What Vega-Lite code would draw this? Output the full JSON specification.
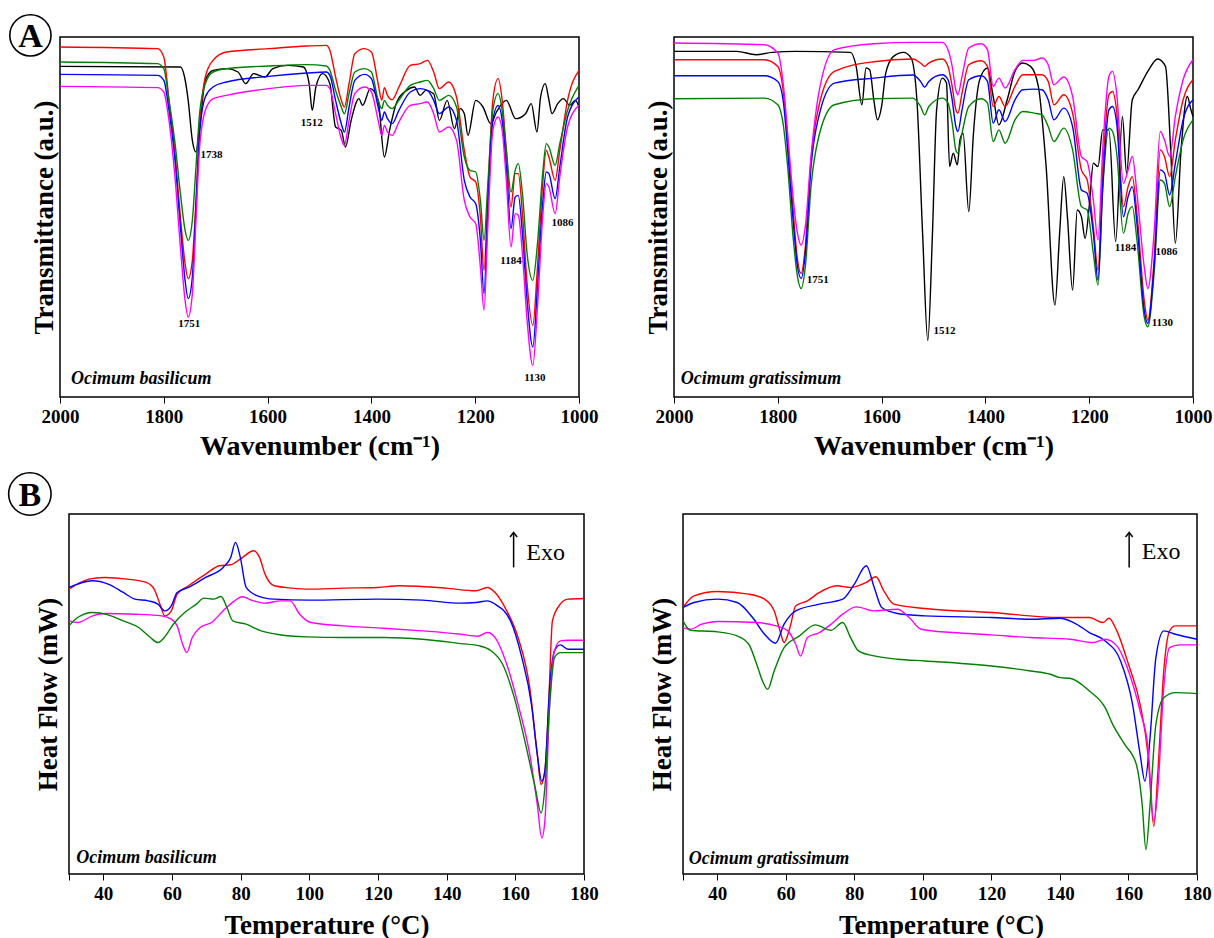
{
  "$schema": "https://vega.github.io/schema/vega-lite/v6.json",
  "padding": {"left": 5, "top": 10, "right": 0, "bottom": 0},
  "background": "white",
  "config": {
    "font": "Liberation Serif",
    "view": {"stroke": "#000000", "strokeWidth": 1.5},
    "axis": {"grid": false, "domain": false, "tickColor": "#000000", "labelColor": "#000000", "titleColor": "#000000", "labelFont": "Liberation Serif", "titleFont": "Liberation Serif", "labelFontWeight": "bold", "titleFontWeight": "bold"},
    "line": {"strokeWidth": 1.4, "interpolate": "monotone"},
    "text": {"font": "Liberation Serif", "color": "#000000"}
  },
  "datasets": {
    "ftir_ob": [
      {"s":"S1","x":2000,"y":992},{"s":"S1","x":1768,"y":990},{"s":"S1","x":1760,"y":960},{"s":"S1","x":1753,"y":890},{"s":"S1","x":1745,"y":770},{"s":"S1","x":1738,"y":735},{"s":"S1","x":1731,"y":810},{"s":"S1","x":1720,"y":950},{"s":"S1","x":1705,"y":980},{"s":"S1","x":1679,"y":985},{"s":"S1","x":1657,"y":975},{"s":"S1","x":1642,"y":940},{"s":"S1","x":1627,"y":970},{"s":"S1","x":1605,"y":960},{"s":"S1","x":1590,"y":985},{"s":"S1","x":1561,"y":995},{"s":"S1","x":1531,"y":990},{"s":"S1","x":1520,"y":940},{"s":"S1","x":1514,"y":860},{"s":"S1","x":1507,"y":930},{"s":"S1","x":1494,"y":970},{"s":"S1","x":1480,"y":940},{"s":"S1","x":1469,"y":810},{"s":"S1","x":1458,"y":800},{"s":"S1","x":1450,"y":750},{"s":"S1","x":1439,"y":830},{"s":"S1","x":1424,"y":895},{"s":"S1","x":1417,"y":875},{"s":"S1","x":1402,"y":925},{"s":"S1","x":1387,"y":890},{"s":"S1","x":1375,"y":720},{"s":"S1","x":1365,"y":800},{"s":"S1","x":1351,"y":885},{"s":"S1","x":1332,"y":920},{"s":"S1","x":1317,"y":930},{"s":"S1","x":1306,"y":905},{"s":"S1","x":1295,"y":920},{"s":"S1","x":1280,"y":910},{"s":"S1","x":1269,"y":830},{"s":"S1","x":1254,"y":890},{"s":"S1","x":1240,"y":805},{"s":"S1","x":1229,"y":865},{"s":"S1","x":1221,"y":850},{"s":"S1","x":1214,"y":785},{"s":"S1","x":1199,"y":890},{"s":"S1","x":1185,"y":870},{"s":"S1","x":1170,"y":820},{"s":"S1","x":1159,"y":855},{"s":"S1","x":1140,"y":890},{"s":"S1","x":1122,"y":835},{"s":"S1","x":1103,"y":850},{"s":"S1","x":1092,"y":880},{"s":"S1","x":1081,"y":795},{"s":"S1","x":1074,"y":900},{"s":"S1","x":1065,"y":940},{"s":"S1","x":1059,"y":900},{"s":"S1","x":1052,"y":850},{"s":"S1","x":1041,"y":880},{"s":"S1","x":1030,"y":895},{"s":"S1","x":1018,"y":875},{"s":"S1","x":1007,"y":890},{"s":"S1","x":1000,"y":870},
      {"s":"S2","x":2000,"y":1050},{"s":"S2","x":1812,"y":1045},{"s":"S2","x":1800,"y":1020},{"s":"S2","x":1790,"y":890},{"s":"S2","x":1779,"y":740},{"s":"S2","x":1768,"y":540},{"s":"S2","x":1759,"y":400},{"s":"S2","x":1753,"y":355},{"s":"S2","x":1745,"y":410},{"s":"S2","x":1738,"y":590},{"s":"S2","x":1731,"y":810},{"s":"S2","x":1720,"y":960},{"s":"S2","x":1705,"y":1010},{"s":"S2","x":1679,"y":1035},{"s":"S2","x":1598,"y":1045},{"s":"S2","x":1524,"y":1053},{"s":"S2","x":1487,"y":1055},{"s":"S2","x":1480,"y":1040},{"s":"S2","x":1469,"y":960},{"s":"S2","x":1458,"y":890},{"s":"S2","x":1452,"y":870},{"s":"S2","x":1443,"y":940},{"s":"S2","x":1432,"y":1030},{"s":"S2","x":1413,"y":1045},{"s":"S2","x":1400,"y":1035},{"s":"S2","x":1387,"y":940},{"s":"S2","x":1380,"y":890},{"s":"S2","x":1375,"y":928},{"s":"S2","x":1369,"y":905},{"s":"S2","x":1360,"y":892},{"s":"S2","x":1347,"y":930},{"s":"S2","x":1325,"y":995},{"s":"S2","x":1306,"y":1000},{"s":"S2","x":1292,"y":1010},{"s":"S2","x":1280,"y":975},{"s":"S2","x":1269,"y":925},{"s":"S2","x":1251,"y":945},{"s":"S2","x":1236,"y":900},{"s":"S2","x":1221,"y":740},{"s":"S2","x":1210,"y":660},{"s":"S2","x":1199,"y":645},{"s":"S2","x":1190,"y":540},{"s":"S2","x":1183,"y":380},{"s":"S2","x":1176,"y":590},{"s":"S2","x":1166,"y":890},{"s":"S2","x":1156,"y":955},{"s":"S2","x":1148,"y":890},{"s":"S2","x":1140,"y":740},{"s":"S2","x":1131,"y":570},{"s":"S2","x":1123,"y":670},{"s":"S2","x":1117,"y":670},{"s":"S2","x":1109,"y":550},{"s":"S2","x":1100,"y":340},{"s":"S2","x":1089,"y":215},{"s":"S2","x":1080,"y":390},{"s":"S2","x":1070,"y":640},{"s":"S2","x":1063,"y":740},{"s":"S2","x":1058,"y":720},{"s":"S2","x":1046,"y":650},{"s":"S2","x":1037,"y":740},{"s":"S2","x":1022,"y":890},{"s":"S2","x":1000,"y":980},
      {"s":"S3","x":2000,"y":1005},{"s":"S3","x":1812,"y":1000},{"s":"S3","x":1800,"y":985},{"s":"S3","x":1790,"y":890},{"s":"S3","x":1779,"y":770},{"s":"S3","x":1768,"y":610},{"s":"S3","x":1759,"y":500},{"s":"S3","x":1753,"y":470},{"s":"S3","x":1745,"y":530},{"s":"S3","x":1738,"y":690},{"s":"S3","x":1731,"y":850},{"s":"S3","x":1720,"y":940},{"s":"S3","x":1705,"y":975},{"s":"S3","x":1679,"y":985},{"s":"S3","x":1598,"y":993},{"s":"S3","x":1524,"y":997},{"s":"S3","x":1487,"y":993},{"s":"S3","x":1480,"y":980},{"s":"S3","x":1469,"y":920},{"s":"S3","x":1458,"y":870},{"s":"S3","x":1452,"y":850},{"s":"S3","x":1443,"y":910},{"s":"S3","x":1432,"y":975},{"s":"S3","x":1413,"y":985},{"s":"S3","x":1400,"y":975},{"s":"S3","x":1387,"y":890},{"s":"S3","x":1380,"y":865},{"s":"S3","x":1375,"y":890},{"s":"S3","x":1369,"y":875},{"s":"S3","x":1360,"y":865},{"s":"S3","x":1347,"y":890},{"s":"S3","x":1325,"y":935},{"s":"S3","x":1306,"y":945},{"s":"S3","x":1292,"y":950},{"s":"S3","x":1280,"y":925},{"s":"S3","x":1269,"y":890},{"s":"S3","x":1251,"y":905},{"s":"S3","x":1236,"y":870},{"s":"S3","x":1221,"y":720},{"s":"S3","x":1210,"y":680},{"s":"S3","x":1199,"y":675},{"s":"S3","x":1190,"y":590},{"s":"S3","x":1183,"y":470},{"s":"S3","x":1176,"y":630},{"s":"S3","x":1166,"y":860},{"s":"S3","x":1156,"y":910},{"s":"S3","x":1148,"y":860},{"s":"S3","x":1140,"y":740},{"s":"S3","x":1131,"y":615},{"s":"S3","x":1123,"y":680},{"s":"S3","x":1117,"y":700},{"s":"S3","x":1109,"y":610},{"s":"S3","x":1100,"y":430},{"s":"S3","x":1089,"y":350},{"s":"S3","x":1080,"y":460},{"s":"S3","x":1070,"y":670},{"s":"S3","x":1063,"y":760},{"s":"S3","x":1058,"y":750},{"s":"S3","x":1046,"y":695},{"s":"S3","x":1037,"y":760},{"s":"S3","x":1022,"y":860},{"s":"S3","x":1000,"y":935},
      {"s":"S4","x":2000,"y":968},{"s":"S4","x":1812,"y":965},{"s":"S4","x":1800,"y":950},{"s":"S4","x":1790,"y":860},{"s":"S4","x":1779,"y":720},{"s":"S4","x":1768,"y":510},{"s":"S4","x":1759,"y":350},{"s":"S4","x":1753,"y":295},{"s":"S4","x":1745,"y":360},{"s":"S4","x":1738,"y":570},{"s":"S4","x":1731,"y":790},{"s":"S4","x":1720,"y":900},{"s":"S4","x":1705,"y":930},{"s":"S4","x":1679,"y":945},{"s":"S4","x":1598,"y":962},{"s":"S4","x":1524,"y":972},{"s":"S4","x":1487,"y":975},{"s":"S4","x":1480,"y":965},{"s":"S4","x":1469,"y":890},{"s":"S4","x":1458,"y":820},{"s":"S4","x":1452,"y":795},{"s":"S4","x":1443,"y":870},{"s":"S4","x":1432,"y":950},{"s":"S4","x":1413,"y":968},{"s":"S4","x":1400,"y":955},{"s":"S4","x":1387,"y":870},{"s":"S4","x":1380,"y":830},{"s":"S4","x":1375,"y":855},{"s":"S4","x":1369,"y":835},{"s":"S4","x":1360,"y":820},{"s":"S4","x":1347,"y":860},{"s":"S4","x":1325,"y":915},{"s":"S4","x":1306,"y":925},{"s":"S4","x":1292,"y":920},{"s":"S4","x":1280,"y":890},{"s":"S4","x":1269,"y":850},{"s":"S4","x":1251,"y":870},{"s":"S4","x":1236,"y":830},{"s":"S4","x":1221,"y":650},{"s":"S4","x":1210,"y":600},{"s":"S4","x":1199,"y":580},{"s":"S4","x":1190,"y":470},{"s":"S4","x":1183,"y":310},{"s":"S4","x":1176,"y":550},{"s":"S4","x":1166,"y":830},{"s":"S4","x":1156,"y":875},{"s":"S4","x":1148,"y":830},{"s":"S4","x":1140,"y":690},{"s":"S4","x":1131,"y":505},{"s":"S4","x":1123,"y":600},{"s":"S4","x":1117,"y":605},{"s":"S4","x":1109,"y":490},{"s":"S4","x":1100,"y":290},{"s":"S4","x":1089,"y":150},{"s":"S4","x":1080,"y":330},{"s":"S4","x":1070,"y":580},{"s":"S4","x":1063,"y":675},{"s":"S4","x":1058,"y":670},{"s":"S4","x":1046,"y":595},{"s":"S4","x":1037,"y":690},{"s":"S4","x":1022,"y":840},{"s":"S4","x":1000,"y":900},
      {"s":"S5","x":2000,"y":932},{"s":"S5","x":1812,"y":928},{"s":"S5","x":1800,"y":915},{"s":"S5","x":1790,"y":830},{"s":"S5","x":1779,"y":670},{"s":"S5","x":1768,"y":450},{"s":"S5","x":1759,"y":290},{"s":"S5","x":1753,"y":240},{"s":"S5","x":1745,"y":310},{"s":"S5","x":1738,"y":530},{"s":"S5","x":1731,"y":750},{"s":"S5","x":1720,"y":860},{"s":"S5","x":1705,"y":895},{"s":"S5","x":1679,"y":905},{"s":"S5","x":1598,"y":925},{"s":"S5","x":1524,"y":935},{"s":"S5","x":1487,"y":935},{"s":"S5","x":1480,"y":925},{"s":"S5","x":1469,"y":850},{"s":"S5","x":1458,"y":775},{"s":"S5","x":1452,"y":755},{"s":"S5","x":1443,"y":830},{"s":"S5","x":1432,"y":910},{"s":"S5","x":1413,"y":930},{"s":"S5","x":1400,"y":915},{"s":"S5","x":1387,"y":830},{"s":"S5","x":1380,"y":785},{"s":"S5","x":1375,"y":815},{"s":"S5","x":1369,"y":795},{"s":"S5","x":1360,"y":785},{"s":"S5","x":1347,"y":825},{"s":"S5","x":1325,"y":875},{"s":"S5","x":1306,"y":880},{"s":"S5","x":1292,"y":885},{"s":"S5","x":1280,"y":850},{"s":"S5","x":1269,"y":795},{"s":"S5","x":1251,"y":810},{"s":"S5","x":1236,"y":770},{"s":"S5","x":1221,"y":590},{"s":"S5","x":1210,"y":540},{"s":"S5","x":1199,"y":520},{"s":"S5","x":1190,"y":390},{"s":"S5","x":1183,"y":260},{"s":"S5","x":1176,"y":500},{"s":"S5","x":1166,"y":800},{"s":"S5","x":1156,"y":840},{"s":"S5","x":1148,"y":800},{"s":"S5","x":1140,"y":650},{"s":"S5","x":1131,"y":450},{"s":"S5","x":1123,"y":550},{"s":"S5","x":1117,"y":545},{"s":"S5","x":1109,"y":430},{"s":"S5","x":1100,"y":230},{"s":"S5","x":1089,"y":95},{"s":"S5","x":1080,"y":270},{"s":"S5","x":1070,"y":540},{"s":"S5","x":1063,"y":640},{"s":"S5","x":1058,"y":630},{"s":"S5","x":1046,"y":550},{"s":"S5","x":1037,"y":660},{"s":"S5","x":1022,"y":810},{"s":"S5","x":1000,"y":875}
    ],
    "ftir_og": [
      {"s":"S1","x":2000,"y":1035},{"s":"S1","x":1879,"y":1035},{"s":"S1","x":1842,"y":1025},{"s":"S1","x":1811,"y":1032},{"s":"S1","x":1766,"y":1035},{"s":"S1","x":1660,"y":1032},{"s":"S1","x":1649,"y":990},{"s":"S1","x":1638,"y":875},{"s":"S1","x":1630,"y":985},{"s":"S1","x":1623,"y":980},{"s":"S1","x":1615,"y":890},{"s":"S1","x":1608,"y":830},{"s":"S1","x":1600,"y":870},{"s":"S1","x":1592,"y":970},{"s":"S1","x":1577,"y":1020},{"s":"S1","x":1558,"y":1032},{"s":"S1","x":1543,"y":1015},{"s":"S1","x":1532,"y":890},{"s":"S1","x":1521,"y":490},{"s":"S1","x":1511,"y":170},{"s":"S1","x":1502,"y":490},{"s":"S1","x":1494,"y":860},{"s":"S1","x":1483,"y":955},{"s":"S1","x":1475,"y":940},{"s":"S1","x":1469,"y":690},{"s":"S1","x":1462,"y":730},{"s":"S1","x":1454,"y":695},{"s":"S1","x":1449,"y":770},{"s":"S1","x":1443,"y":790},{"s":"S1","x":1432,"y":555},{"s":"S1","x":1423,"y":790},{"s":"S1","x":1411,"y":950},{"s":"S1","x":1396,"y":985},{"s":"S1","x":1385,"y":900},{"s":"S1","x":1374,"y":815},{"s":"S1","x":1358,"y":890},{"s":"S1","x":1343,"y":975},{"s":"S1","x":1328,"y":1000},{"s":"S1","x":1313,"y":990},{"s":"S1","x":1298,"y":930},{"s":"S1","x":1283,"y":690},{"s":"S1","x":1266,"y":275},{"s":"S1","x":1257,"y":490},{"s":"S1","x":1249,"y":660},{"s":"S1","x":1242,"y":540},{"s":"S1","x":1232,"y":320},{"s":"S1","x":1223,"y":560},{"s":"S1","x":1215,"y":540},{"s":"S1","x":1208,"y":475},{"s":"S1","x":1200,"y":570},{"s":"S1","x":1192,"y":700},{"s":"S1","x":1183,"y":690},{"s":"S1","x":1174,"y":800},{"s":"S1","x":1162,"y":800},{"s":"S1","x":1149,"y":465},{"s":"S1","x":1136,"y":840},{"s":"S1","x":1128,"y":670},{"s":"S1","x":1117,"y":890},{"s":"S1","x":1106,"y":920},{"s":"S1","x":1087,"y":975},{"s":"S1","x":1068,"y":1012},{"s":"S1","x":1053,"y":990},{"s":"S1","x":1043,"y":740},{"s":"S1","x":1034,"y":460},{"s":"S1","x":1023,"y":740},{"s":"S1","x":1011,"y":900},{"s":"S1","x":1004,"y":860},{"s":"S1","x":1000,"y":840},
      {"s":"S2","x":2000,"y":1010},{"s":"S2","x":1826,"y":1010},{"s":"S2","x":1800,"y":990},{"s":"S2","x":1789,"y":910},{"s":"S2","x":1781,"y":770},{"s":"S2","x":1770,"y":550},{"s":"S2","x":1762,"y":410},{"s":"S2","x":1755,"y":370},{"s":"S2","x":1747,"y":450},{"s":"S2","x":1736,"y":710},{"s":"S2","x":1721,"y":870},{"s":"S2","x":1691,"y":975},{"s":"S2","x":1615,"y":1004},{"s":"S2","x":1540,"y":1012},{"s":"S2","x":1525,"y":1000},{"s":"S2","x":1517,"y":990},{"s":"S2","x":1509,"y":1000},{"s":"S2","x":1483,"y":1012},{"s":"S2","x":1472,"y":990},{"s":"S2","x":1464,"y":930},{"s":"S2","x":1457,"y":860},{"s":"S2","x":1453,"y":850},{"s":"S2","x":1445,"y":910},{"s":"S2","x":1432,"y":995},{"s":"S2","x":1408,"y":1007},{"s":"S2","x":1396,"y":990},{"s":"S2","x":1385,"y":870},{"s":"S2","x":1374,"y":900},{"s":"S2","x":1362,"y":870},{"s":"S2","x":1343,"y":930},{"s":"S2","x":1328,"y":965},{"s":"S2","x":1306,"y":965},{"s":"S2","x":1291,"y":965},{"s":"S2","x":1279,"y":945},{"s":"S2","x":1268,"y":875},{"s":"S2","x":1249,"y":905},{"s":"S2","x":1232,"y":850},{"s":"S2","x":1215,"y":680},{"s":"S2","x":1204,"y":650},{"s":"S2","x":1192,"y":510},{"s":"S2","x":1183,"y":380},{"s":"S2","x":1174,"y":680},{"s":"S2","x":1162,"y":905},{"s":"S2","x":1155,"y":915},{"s":"S2","x":1147,"y":855},{"s":"S2","x":1134,"y":570},{"s":"S2","x":1125,"y":630},{"s":"S2","x":1117,"y":660},{"s":"S2","x":1108,"y":550},{"s":"S2","x":1094,"y":290},{"s":"S2","x":1087,"y":230},{"s":"S2","x":1075,"y":410},{"s":"S2","x":1063,"y":740},{"s":"S2","x":1055,"y":720},{"s":"S2","x":1045,"y":660},{"s":"S2","x":1034,"y":770},{"s":"S2","x":1019,"y":890},{"s":"S2","x":1000,"y":950},
      {"s":"S3","x":2000,"y":893},{"s":"S3","x":1826,"y":895},{"s":"S3","x":1800,"y":875},{"s":"S3","x":1789,"y":810},{"s":"S3","x":1781,"y":690},{"s":"S3","x":1770,"y":470},{"s":"S3","x":1762,"y":360},{"s":"S3","x":1755,"y":325},{"s":"S3","x":1747,"y":390},{"s":"S3","x":1736,"y":630},{"s":"S3","x":1721,"y":780},{"s":"S3","x":1691,"y":875},{"s":"S3","x":1615,"y":893},{"s":"S3","x":1540,"y":895},{"s":"S3","x":1525,"y":870},{"s":"S3","x":1517,"y":845},{"s":"S3","x":1509,"y":870},{"s":"S3","x":1483,"y":895},{"s":"S3","x":1472,"y":880},{"s":"S3","x":1464,"y":820},{"s":"S3","x":1457,"y":740},{"s":"S3","x":1453,"y":730},{"s":"S3","x":1445,"y":790},{"s":"S3","x":1432,"y":870},{"s":"S3","x":1408,"y":893},{"s":"S3","x":1396,"y":880},{"s":"S3","x":1385,"y":765},{"s":"S3","x":1374,"y":800},{"s":"S3","x":1362,"y":760},{"s":"S3","x":1343,"y":830},{"s":"S3","x":1328,"y":855},{"s":"S3","x":1306,"y":850},{"s":"S3","x":1291,"y":845},{"s":"S3","x":1279,"y":810},{"s":"S3","x":1268,"y":765},{"s":"S3","x":1249,"y":805},{"s":"S3","x":1232,"y":740},{"s":"S3","x":1215,"y":570},{"s":"S3","x":1204,"y":560},{"s":"S3","x":1192,"y":430},{"s":"S3","x":1183,"y":335},{"s":"S3","x":1174,"y":620},{"s":"S3","x":1162,"y":805},{"s":"S3","x":1155,"y":795},{"s":"S3","x":1147,"y":730},{"s":"S3","x":1134,"y":490},{"s":"S3","x":1125,"y":550},{"s":"S3","x":1117,"y":570},{"s":"S3","x":1108,"y":470},{"s":"S3","x":1094,"y":240},{"s":"S3","x":1087,"y":210},{"s":"S3","x":1075,"y":370},{"s":"S3","x":1063,"y":650},{"s":"S3","x":1055,"y":640},{"s":"S3","x":1045,"y":570},{"s":"S3","x":1034,"y":660},{"s":"S3","x":1019,"y":770},{"s":"S3","x":1000,"y":830},
      {"s":"S4","x":2000,"y":962},{"s":"S4","x":1826,"y":962},{"s":"S4","x":1800,"y":945},{"s":"S4","x":1789,"y":880},{"s":"S4","x":1781,"y":740},{"s":"S4","x":1770,"y":520},{"s":"S4","x":1762,"y":390},{"s":"S4","x":1755,"y":355},{"s":"S4","x":1747,"y":430},{"s":"S4","x":1736,"y":690},{"s":"S4","x":1721,"y":840},{"s":"S4","x":1691,"y":940},{"s":"S4","x":1615,"y":955},{"s":"S4","x":1540,"y":964},{"s":"S4","x":1525,"y":945},{"s":"S4","x":1517,"y":928},{"s":"S4","x":1509,"y":945},{"s":"S4","x":1483,"y":965},{"s":"S4","x":1472,"y":950},{"s":"S4","x":1464,"y":890},{"s":"S4","x":1457,"y":810},{"s":"S4","x":1453,"y":795},{"s":"S4","x":1445,"y":860},{"s":"S4","x":1432,"y":950},{"s":"S4","x":1408,"y":962},{"s":"S4","x":1396,"y":945},{"s":"S4","x":1385,"y":820},{"s":"S4","x":1374,"y":860},{"s":"S4","x":1362,"y":825},{"s":"S4","x":1343,"y":890},{"s":"S4","x":1328,"y":920},{"s":"S4","x":1306,"y":922},{"s":"S4","x":1291,"y":920},{"s":"S4","x":1279,"y":890},{"s":"S4","x":1268,"y":830},{"s":"S4","x":1249,"y":865},{"s":"S4","x":1232,"y":810},{"s":"S4","x":1215,"y":620},{"s":"S4","x":1204,"y":610},{"s":"S4","x":1192,"y":490},{"s":"S4","x":1183,"y":350},{"s":"S4","x":1174,"y":630},{"s":"S4","x":1162,"y":860},{"s":"S4","x":1155,"y":870},{"s":"S4","x":1147,"y":820},{"s":"S4","x":1134,"y":540},{"s":"S4","x":1125,"y":600},{"s":"S4","x":1117,"y":630},{"s":"S4","x":1108,"y":520},{"s":"S4","x":1094,"y":260},{"s":"S4","x":1087,"y":220},{"s":"S4","x":1075,"y":390},{"s":"S4","x":1063,"y":680},{"s":"S4","x":1055,"y":670},{"s":"S4","x":1045,"y":605},{"s":"S4","x":1034,"y":700},{"s":"S4","x":1019,"y":830},{"s":"S4","x":1000,"y":890},
      {"s":"S5","x":2000,"y":1060},{"s":"S5","x":1826,"y":1055},{"s":"S5","x":1800,"y":1030},{"s":"S5","x":1789,"y":930},{"s":"S5","x":1781,"y":790},{"s":"S5","x":1770,"y":590},{"s":"S5","x":1762,"y":490},{"s":"S5","x":1755,"y":455},{"s":"S5","x":1747,"y":510},{"s":"S5","x":1736,"y":720},{"s":"S5","x":1721,"y":910},{"s":"S5","x":1691,"y":1040},{"s":"S5","x":1615,"y":1058},{"s":"S5","x":1540,"y":1062},{"s":"S5","x":1525,"y":1062},{"s":"S5","x":1517,"y":1062},{"s":"S5","x":1509,"y":1062},{"s":"S5","x":1483,"y":1062},{"s":"S5","x":1472,"y":1040},{"s":"S5","x":1464,"y":990},{"s":"S5","x":1457,"y":920},{"s":"S5","x":1453,"y":905},{"s":"S5","x":1445,"y":960},{"s":"S5","x":1432,"y":1045},{"s":"S5","x":1408,"y":1058},{"s":"S5","x":1396,"y":1040},{"s":"S5","x":1385,"y":930},{"s":"S5","x":1374,"y":955},{"s":"S5","x":1362,"y":925},{"s":"S5","x":1343,"y":980},{"s":"S5","x":1328,"y":1008},{"s":"S5","x":1306,"y":1008},{"s":"S5","x":1291,"y":1015},{"s":"S5","x":1279,"y":995},{"s":"S5","x":1268,"y":935},{"s":"S5","x":1249,"y":958},{"s":"S5","x":1232,"y":900},{"s":"S5","x":1215,"y":720},{"s":"S5","x":1204,"y":705},{"s":"S5","x":1192,"y":590},{"s":"S5","x":1183,"y":470},{"s":"S5","x":1174,"y":740},{"s":"S5","x":1162,"y":960},{"s":"S5","x":1155,"y":975},{"s":"S5","x":1147,"y":910},{"s":"S5","x":1134,"y":640},{"s":"S5","x":1125,"y":680},{"s":"S5","x":1117,"y":720},{"s":"S5","x":1108,"y":610},{"s":"S5","x":1094,"y":390},{"s":"S5","x":1087,"y":325},{"s":"S5","x":1075,"y":490},{"s":"S5","x":1063,"y":795},{"s":"S5","x":1055,"y":770},{"s":"S5","x":1045,"y":720},{"s":"S5","x":1034,"y":840},{"s":"S5","x":1019,"y":950},{"s":"S5","x":1000,"y":1010}
    ],
    "dsc_ob": [
      {"s":"S2","x":30,"y":853},{"s":"S2","x":35.8,"y":883},{"s":"S2","x":40.3,"y":888},{"s":"S2","x":47,"y":883},{"s":"S2","x":52.5,"y":873},{"s":"S2","x":54.8,"y":853},{"s":"S2","x":56.5,"y":808},{"s":"S2","x":57.9,"y":773},{"s":"S2","x":59.8,"y":788},{"s":"S2","x":61.5,"y":838},{"s":"S2","x":64.8,"y":863},{"s":"S2","x":69.8,"y":898},{"s":"S2","x":73.8,"y":923},{"s":"S2","x":77.1,"y":926},{"s":"S2","x":79.9,"y":943},{"s":"S2","x":83.8,"y":968},{"s":"S2","x":85.5,"y":948},{"s":"S2","x":87.1,"y":898},{"s":"S2","x":89.8,"y":863},{"s":"S2","x":95,"y":856},{"s":"S2","x":99.9,"y":853},{"s":"S2","x":109.8,"y":856},{"s":"S2","x":119.8,"y":858},{"s":"S2","x":126.2,"y":863},{"s":"S2","x":139.8,"y":856},{"s":"S2","x":148.5,"y":848},{"s":"S2","x":151.9,"y":858},{"s":"S2","x":154.1,"y":843},{"s":"S2","x":157.5,"y":788},{"s":"S2","x":160.8,"y":708},{"s":"S2","x":164.2,"y":558},{"s":"S2","x":166.4,"y":358},{"s":"S2","x":167.5,"y":268},{"s":"S2","x":168.6,"y":308},{"s":"S2","x":169.7,"y":508},{"s":"S2","x":170.8,"y":758},{"s":"S2","x":173.1,"y":808},{"s":"S2","x":175.3,"y":823},{"s":"S2","x":180,"y":825},
      {"s":"S4","x":30,"y":858},{"s":"S4","x":32.5,"y":868},{"s":"S4","x":36.9,"y":878},{"s":"S4","x":41.4,"y":868},{"s":"S4","x":45.8,"y":843},{"s":"S4","x":49.2,"y":823},{"s":"S4","x":53.1,"y":818},{"s":"S4","x":55.9,"y":808},{"s":"S4","x":57.9,"y":788},{"s":"S4","x":59.8,"y":803},{"s":"S4","x":61.5,"y":843},{"s":"S4","x":64.8,"y":858},{"s":"S4","x":69.8,"y":888},{"s":"S4","x":74.9,"y":918},{"s":"S4","x":77.1,"y":948},{"s":"S4","x":78.5,"y":993},{"s":"S4","x":79.9,"y":948},{"s":"S4","x":81.6,"y":858},{"s":"S4","x":84.9,"y":833},{"s":"S4","x":89.8,"y":823},{"s":"S4","x":99.9,"y":820},{"s":"S4","x":119.8,"y":823},{"s":"S4","x":132.9,"y":820},{"s":"S4","x":144.1,"y":811},{"s":"S4","x":148.5,"y":813},{"s":"S4","x":151.9,"y":818},{"s":"S4","x":154.1,"y":808},{"s":"S4","x":158.6,"y":758},{"s":"S4","x":161.9,"y":648},{"s":"S4","x":164.7,"y":508},{"s":"S4","x":166.4,"y":358},{"s":"S4","x":167.7,"y":278},{"s":"S4","x":168.6,"y":308},{"s":"S4","x":170,"y":558},{"s":"S4","x":171.4,"y":668},{"s":"S4","x":173.1,"y":686},{"s":"S4","x":175.3,"y":673},{"s":"S4","x":180,"y":673},
      {"s":"S5","x":30,"y":758},{"s":"S5","x":32.5,"y":753},{"s":"S5","x":36.9,"y":773},{"s":"S5","x":40.3,"y":780},{"s":"S5","x":49.2,"y":778},{"s":"S5","x":57,"y":773},{"s":"S5","x":59.8,"y":763},{"s":"S5","x":61.5,"y":743},{"s":"S5","x":63.1,"y":688},{"s":"S5","x":64.3,"y":663},{"s":"S5","x":65.9,"y":708},{"s":"S5","x":68.2,"y":738},{"s":"S5","x":71.5,"y":753},{"s":"S5","x":74.9,"y":788},{"s":"S5","x":78.2,"y":818},{"s":"S5","x":80.4,"y":830},{"s":"S5","x":83.8,"y":818},{"s":"S5","x":87.1,"y":811},{"s":"S5","x":91.6,"y":818},{"s":"S5","x":94.4,"y":818},{"s":"S5","x":97.2,"y":778},{"s":"S5","x":100.5,"y":753},{"s":"S5","x":109.8,"y":743},{"s":"S5","x":121.7,"y":736},{"s":"S5","x":132.9,"y":728},{"s":"S5","x":144.1,"y":718},{"s":"S5","x":149.1,"y":712},{"s":"S5","x":151.9,"y":723},{"s":"S5","x":154.1,"y":708},{"s":"S5","x":157.5,"y":628},{"s":"S5","x":160.8,"y":508},{"s":"S5","x":164.2,"y":358},{"s":"S5","x":166.4,"y":208},{"s":"S5","x":167.7,"y":108},{"s":"S5","x":168.6,"y":158},{"s":"S5","x":170,"y":508},{"s":"S5","x":171.4,"y":668},{"s":"S5","x":173.1,"y":698},{"s":"S5","x":175.3,"y":700},{"s":"S5","x":180,"y":700},
      {"s":"S3","x":30,"y":743},{"s":"S3","x":32.5,"y":768},{"s":"S3","x":36.9,"y":783},{"s":"S3","x":41.4,"y":776},{"s":"S3","x":45.8,"y":758},{"s":"S3","x":50.3,"y":738},{"s":"S3","x":53.7,"y":708},{"s":"S3","x":55.9,"y":693},{"s":"S3","x":58.1,"y":713},{"s":"S3","x":60.4,"y":748},{"s":"S3","x":63.7,"y":783},{"s":"S3","x":67.1,"y":808},{"s":"S3","x":69.3,"y":826},{"s":"S3","x":72.1,"y":823},{"s":"S3","x":74.3,"y":831},{"s":"S3","x":76,"y":798},{"s":"S3","x":77.7,"y":758},{"s":"S3","x":81.6,"y":748},{"s":"S3","x":86,"y":728},{"s":"S3","x":90.5,"y":718},{"s":"S3","x":99.4,"y":710},{"s":"S3","x":109.8,"y":708},{"s":"S3","x":121.7,"y":708},{"s":"S3","x":132.9,"y":703},{"s":"S3","x":144.1,"y":690},{"s":"S3","x":149.6,"y":683},{"s":"S3","x":153,"y":668},{"s":"S3","x":156.3,"y":628},{"s":"S3","x":159.7,"y":528},{"s":"S3","x":163,"y":388},{"s":"S3","x":165.8,"y":258},{"s":"S3","x":167.5,"y":183},{"s":"S3","x":168.6,"y":258},{"s":"S3","x":170,"y":508},{"s":"S3","x":171.4,"y":648},{"s":"S3","x":173.1,"y":663},{"s":"S3","x":180,"y":663}
    ],
    "dsc_og": [
      {"s":"S2","x":30,"y":798},{"s":"S2","x":33.2,"y":833},{"s":"S2","x":40.1,"y":846},{"s":"S2","x":49.2,"y":838},{"s":"S2","x":53.8,"y":823},{"s":"S2","x":56.6,"y":788},{"s":"S2","x":58.3,"y":728},{"s":"S2","x":59.5,"y":693},{"s":"S2","x":61.2,"y":738},{"s":"S2","x":62.9,"y":803},{"s":"S2","x":66.3,"y":818},{"s":"S2","x":69.8,"y":843},{"s":"S2","x":74.9,"y":863},{"s":"S2","x":78.9,"y":858},{"s":"S2","x":83.5,"y":873},{"s":"S2","x":86.3,"y":890},{"s":"S2","x":88.6,"y":848},{"s":"S2","x":91.5,"y":808},{"s":"S2","x":100.6,"y":795},{"s":"S2","x":120,"y":783},{"s":"S2","x":140,"y":768},{"s":"S2","x":148.6,"y":768},{"s":"S2","x":152.6,"y":753},{"s":"S2","x":154.3,"y":766},{"s":"S2","x":156.6,"y":728},{"s":"S2","x":160,"y":628},{"s":"S2","x":163.4,"y":508},{"s":"S2","x":165.7,"y":358},{"s":"S2","x":167.4,"y":143},{"s":"S2","x":168.6,"y":308},{"s":"S2","x":170.3,"y":608},{"s":"S2","x":172,"y":728},{"s":"S2","x":173.7,"y":743},{"s":"S2","x":180,"y":743},
      {"s":"S4","x":30,"y":798},{"s":"S4","x":33.2,"y":813},{"s":"S4","x":40.1,"y":823},{"s":"S4","x":45.8,"y":813},{"s":"S4","x":50.3,"y":768},{"s":"S4","x":53.8,"y":718},{"s":"S4","x":57,"y":691},{"s":"S4","x":59.5,"y":748},{"s":"S4","x":62.9,"y":788},{"s":"S4","x":69.8,"y":808},{"s":"S4","x":76.6,"y":823},{"s":"S4","x":80,"y":868},{"s":"S4","x":83.5,"y":923},{"s":"S4","x":85.8,"y":858},{"s":"S4","x":88,"y":798},{"s":"S4","x":92.6,"y":780},{"s":"S4","x":100.6,"y":773},{"s":"S4","x":120,"y":768},{"s":"S4","x":131.4,"y":763},{"s":"S4","x":140,"y":766},{"s":"S4","x":144,"y":753},{"s":"S4","x":148.6,"y":723},{"s":"S4","x":153.2,"y":698},{"s":"S4","x":157.7,"y":638},{"s":"S4","x":161.2,"y":508},{"s":"S4","x":163.4,"y":358},{"s":"S4","x":164.8,"y":278},{"s":"S4","x":166.3,"y":408},{"s":"S4","x":168,"y":648},{"s":"S4","x":170.3,"y":728},{"s":"S4","x":173.7,"y":718},{"s":"S4","x":180,"y":703},
      {"s":"S5","x":30,"y":738},{"s":"S5","x":32.1,"y":733},{"s":"S5","x":35.5,"y":748},{"s":"S5","x":40.1,"y":756},{"s":"S5","x":51.5,"y":753},{"s":"S5","x":57.2,"y":743},{"s":"S5","x":60.6,"y":728},{"s":"S5","x":62.9,"y":688},{"s":"S5","x":64.3,"y":653},{"s":"S5","x":66.3,"y":708},{"s":"S5","x":69.8,"y":723},{"s":"S5","x":73.2,"y":748},{"s":"S5","x":76.6,"y":778},{"s":"S5","x":80.6,"y":800},{"s":"S5","x":85.8,"y":788},{"s":"S5","x":92.6,"y":793},{"s":"S5","x":96,"y":768},{"s":"S5","x":99.5,"y":733},{"s":"S5","x":108.6,"y":723},{"s":"S5","x":120,"y":716},{"s":"S5","x":131.4,"y":708},{"s":"S5","x":142.9,"y":703},{"s":"S5","x":149.7,"y":693},{"s":"S5","x":153.2,"y":703},{"s":"S5","x":156.6,"y":683},{"s":"S5","x":160,"y":608},{"s":"S5","x":163.4,"y":488},{"s":"S5","x":165.7,"y":378},{"s":"S5","x":167.4,"y":158},{"s":"S5","x":168.6,"y":258},{"s":"S5","x":170.3,"y":558},{"s":"S5","x":172,"y":678},{"s":"S5","x":174.9,"y":686},{"s":"S5","x":180,"y":686},
      {"s":"S3","x":30,"y":758},{"s":"S3","x":32.1,"y":730},{"s":"S3","x":40.1,"y":725},{"s":"S3","x":45.8,"y":713},{"s":"S3","x":49.2,"y":688},{"s":"S3","x":51.5,"y":628},{"s":"S3","x":53.2,"y":578},{"s":"S3","x":54.7,"y":553},{"s":"S3","x":56.6,"y":608},{"s":"S3","x":59.5,"y":678},{"s":"S3","x":64,"y":713},{"s":"S3","x":68.6,"y":746},{"s":"S3","x":73.2,"y":730},{"s":"S3","x":76.6,"y":753},{"s":"S3","x":78.9,"y":708},{"s":"S3","x":81.2,"y":668},{"s":"S3","x":85.8,"y":653},{"s":"S3","x":92.6,"y":643},{"s":"S3","x":100.6,"y":638},{"s":"S3","x":120,"y":623},{"s":"S3","x":131.4,"y":608},{"s":"S3","x":137.2,"y":598},{"s":"S3","x":140,"y":588},{"s":"S3","x":142.9,"y":586},{"s":"S3","x":148.6,"y":548},{"s":"S3","x":153.2,"y":498},{"s":"S3","x":155.4,"y":448},{"s":"S3","x":158.9,"y":388},{"s":"S3","x":162.3,"y":328},{"s":"S3","x":164,"y":208},{"s":"S3","x":165.1,"y":73},{"s":"S3","x":166.3,"y":208},{"s":"S3","x":168,"y":448},{"s":"S3","x":170.3,"y":528},{"s":"S3","x":173.7,"y":543},{"s":"S3","x":180,"y":540}
    ]
  },
  "columns": 2,
  "spacing": {"row": 8, "column": 44},
  "concat": [
    {
      "width": 519, "height": 360,
      "encoding": {
        "x": {"field": "x", "type": "quantitative", "scale": {"domain": [1000, 2000], "reverse": true, "nice": false, "zero": false},
              "axis": {"title": "Wavenumber (cm\u207b\u00b9)", "values": [1000, 1200, 1400, 1600, 1800, 2000], "format": "d", "tickSize": 6, "labelFontSize": 19, "titleFontSize": 28, "labelPadding": 4, "titlePadding": 6, "labelFlush": false, "labelOverlap": false}},
        "y": {"field": "y", "type": "quantitative", "scale": {"domain": [0, 1080], "nice": false, "zero": false},
              "axis": {"title": "Transmittance (a.u.)", "labels": false, "ticks": false, "titleFontSize": 27, "titlePadding": 2}}
      },
      "layer": [
        {"data": {"name": "ftir_ob"}, "mark": {"type": "line"},
         "encoding": {"color": {"field": "s", "type": "nominal", "scale": {"domain": ["S1","S2","S3","S4","S5"], "range": ["#000000","#ff0000","#008000","#0000ff","#ff00ff"]}, "legend": null}}},
        {"data": {"values": [{"lab":"1751","x":1751,"y":218},{"lab":"1738","x":1708,"y":727},{"lab":"1512","x":1515,"y":823},{"lab":"1184","x":1131,"y":409},{"lab":"1086","x":1032,"y":521},{"lab":"1130","x":1085,"y":57}]},
         "mark": {"type": "text", "fontSize": 11, "fontWeight": "bold", "baseline": "middle"},
         "encoding": {"text": {"field": "lab"}}},
        {"data": {"values": [{"lab":"Ocimum basilicum","x":1979,"y":53}]},
         "mark": {"type": "text", "fontSize": 18, "fontWeight": "bold", "fontStyle": "italic", "align": "left", "baseline": "middle"},
         "encoding": {"text": {"field": "lab"}}},
        {"data": {"values": [{"lab":"A","x":2057,"y":1085}]},
         "mark": {"type": "point", "shape": "circle", "size": 1700, "filled": false, "stroke": "#000000", "strokeWidth": 1.6, "opacity": 1}},
        {"data": {"values": [{"lab":"A","x":2057,"y":1085}]},
         "mark": {"type": "text", "fontSize": 34, "fontWeight": "bold", "baseline": "middle", "dy": 2},
         "encoding": {"text": {"field": "lab"}}}
      ]
    },
    {
      "width": 519, "height": 360,
      "encoding": {
        "x": {"field": "x", "type": "quantitative", "scale": {"domain": [1000, 2000], "reverse": true, "nice": false, "zero": false},
              "axis": {"title": "Wavenumber (cm\u207b\u00b9)", "values": [1000, 1200, 1400, 1600, 1800, 2000], "format": "d", "tickSize": 6, "labelFontSize": 19, "titleFontSize": 28, "labelPadding": 4, "titlePadding": 6, "labelFlush": false, "labelOverlap": false}},
        "y": {"field": "y", "type": "quantitative", "scale": {"domain": [0, 1078], "nice": false, "zero": false},
              "axis": {"title": "Transmittance (a.u.)", "labels": false, "ticks": false, "titleFontSize": 27, "titlePadding": 2}}
      },
      "layer": [
        {"data": {"name": "ftir_og"}, "mark": {"type": "line"},
         "encoding": {"color": {"field": "s", "type": "nominal", "scale": {"domain": ["S1","S2","S3","S4","S5"], "range": ["#000000","#ff0000","#008000","#0000ff","#ff00ff"]}, "legend": null}}},
        {"data": {"values": [{"lab":"1751","x":1723,"y":350},{"lab":"1512","x":1479,"y":197},{"lab":"1184","x":1130,"y":445},{"lab":"1086","x":1051,"y":435},{"lab":"1130","x":1059,"y":222}]},
         "mark": {"type": "text", "fontSize": 11, "fontWeight": "bold", "baseline": "middle"},
         "encoding": {"text": {"field": "lab"}}},
        {"data": {"values": [{"lab":"Ocimum gratissimum","x":1987,"y":53}]},
         "mark": {"type": "text", "fontSize": 18, "fontWeight": "bold", "fontStyle": "italic", "align": "left", "baseline": "middle"},
         "encoding": {"text": {"field": "lab"}}}
      ]
    },
    {
      "width": 524, "height": 360,
      "view": {"stroke": null},
      "encoding": {
        "x": {"field": "x", "type": "quantitative", "scale": {"domain": [27.38, 180], "nice": false, "zero": false},
              "axis": {"title": "Temperature (\u00b0C)", "titleX": 266.5, "values": [30, 40, 60, 80, 100, 120, 140, 160, 180], "labelExpr": "datum.value === 30 ? '' : datum.label", "tickSize": 6, "labelFontSize": 19, "titleFontSize": 27, "labelPadding": 4, "titlePadding": 9, "labelFlush": false, "labelOverlap": false}},
        "y": {"field": "y", "type": "quantitative", "scale": {"domain": [0, 1078], "nice": false, "zero": false},
              "axis": {"title": "Heat Flow (mW)", "labels": false, "ticks": false, "titleFontSize": 27, "titlePadding": -2}}
      },
      "layer": [
        {"data": {"values": [{"x": 30, "x2": 180, "y": 0, "y2": 1078}]},
         "mark": {"type": "rect", "fill": "transparent", "stroke": "#000000", "strokeWidth": 1.5},
         "encoding": {"x2": {"field": "x2"}, "y2": {"field": "y2"}}},
        {"data": {"name": "dsc_ob"}, "mark": {"type": "line"},
         "encoding": {"color": {"field": "s", "type": "nominal", "scale": {"domain": ["S1","S2","S3","S4","S5"], "range": ["#000000","#ff0000","#008000","#0000ff","#ff00ff"]}, "legend": null}}},
        {"data": {"values": [{"lab":"Ocimum basilicum","x":32.1,"y":48}]},
         "mark": {"type": "text", "fontSize": 18, "fontWeight": "bold", "fontStyle": "italic", "align": "left", "baseline": "middle"},
         "encoding": {"text": {"field": "lab"}}},
        {"data": {"values": [{"x":159.5,"y":918,"y2":1021}]},
         "mark": {"type": "rule", "strokeWidth": 1.5, "color": "#000000"},
         "encoding": {"y2": {"field": "y2"}}},
        {"data": {"values": [{"x":159.5,"y":1023}]},
         "mark": {"type": "point", "shape": "M-1,1.3L0,0L1,1.3", "size": 50, "filled": false, "stroke": "#000000", "strokeWidth": 1.5, "opacity": 1}},
        {"data": {"values": [{"lab":"Exo","x":163.2,"y":960}]},
         "mark": {"type": "text", "fontSize": 24, "align": "left", "baseline": "middle"},
         "encoding": {"text": {"field": "lab"}}},
        {"data": {"values": [{"lab":"B","x":18.6,"y":1138}]},
         "mark": {"type": "point", "shape": "circle", "size": 1800, "filled": false, "stroke": "#000000", "strokeWidth": 1.6, "opacity": 1}},
        {"data": {"values": [{"lab":"B","x":18.6,"y":1138}]},
         "mark": {"type": "text", "fontSize": 34, "fontWeight": "bold", "baseline": "middle", "dy": 2},
         "encoding": {"text": {"field": "lab"}}}
      ]
    },
    {
      "width": 523, "height": 360,
      "view": {"stroke": null},
      "encoding": {
        "x": {"field": "x", "type": "quantitative", "scale": {"domain": [27.37, 180], "nice": false, "zero": false},
              "axis": {"title": "Temperature (\u00b0C)", "titleX": 267, "values": [30, 40, 60, 80, 100, 120, 140, 160, 180], "labelExpr": "datum.value === 30 ? '' : datum.label", "tickSize": 6, "labelFontSize": 19, "titleFontSize": 27, "labelPadding": 4, "titlePadding": 9, "labelFlush": false, "labelOverlap": false}},
        "y": {"field": "y", "type": "quantitative", "scale": {"domain": [0, 1078], "nice": false, "zero": false},
              "axis": {"title": "Heat Flow (mW)", "labels": false, "ticks": false, "titleFontSize": 27, "titlePadding": -2}}
      },
      "layer": [
        {"data": {"values": [{"x": 30, "x2": 180, "y": 0, "y2": 1078}]},
         "mark": {"type": "rect", "fill": "transparent", "stroke": "#000000", "strokeWidth": 1.5},
         "encoding": {"x2": {"field": "x2"}, "y2": {"field": "y2"}}},
        {"data": {"name": "dsc_og"}, "mark": {"type": "line"},
         "encoding": {"color": {"field": "s", "type": "nominal", "scale": {"domain": ["S1","S2","S3","S4","S5"], "range": ["#000000","#ff0000","#008000","#0000ff","#ff00ff"]}, "legend": null}}},
        {"data": {"values": [{"lab":"Ocimum gratissimum","x":31.7,"y":46}]},
         "mark": {"type": "text", "fontSize": 18, "fontWeight": "bold", "fontStyle": "italic", "align": "left", "baseline": "middle"},
         "encoding": {"text": {"field": "lab"}}},
        {"data": {"values": [{"x":160.2,"y":918,"y2":1021}]},
         "mark": {"type": "rule", "strokeWidth": 1.5, "color": "#000000"},
         "encoding": {"y2": {"field": "y2"}}},
        {"data": {"values": [{"x":160.2,"y":1023}]},
         "mark": {"type": "point", "shape": "M-1,1.3L0,0L1,1.3", "size": 50, "filled": false, "stroke": "#000000", "strokeWidth": 1.5, "opacity": 1}},
        {"data": {"values": [{"lab":"Exo","x":163.9,"y":963}]},
         "mark": {"type": "text", "fontSize": 24, "align": "left", "baseline": "middle"},
         "encoding": {"text": {"field": "lab"}}}
      ]
    }
  ]
}
